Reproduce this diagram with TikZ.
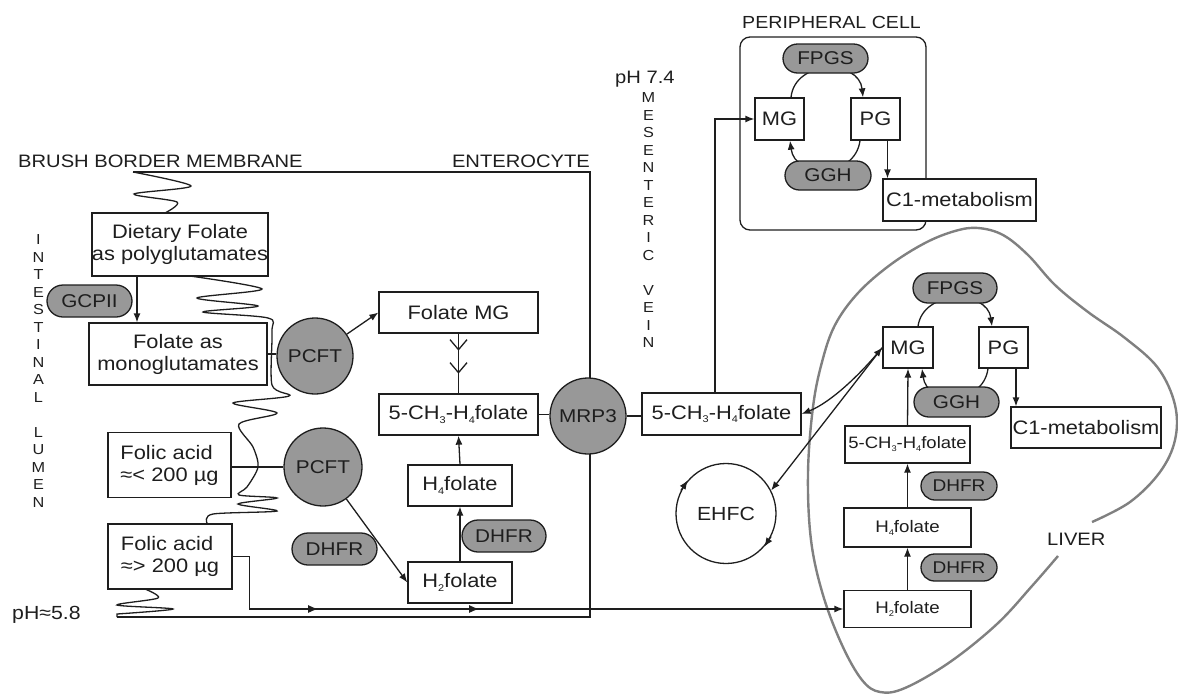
\documentclass[tikz,border=0pt]{standalone}
\usepackage{graphicx}
\usepackage{fontspec}
\setmainfont{Liberation Sans}[FakeStretch=1.12]
\usetikzlibrary{arrows.meta,shapes.misc,decorations.markings,backgrounds}
\definecolor{pillgray}{RGB}{152,152,152}
\definecolor{livergray}{RGB}{128,128,128}
\definecolor{ink}{RGB}{30,30,30}
\newcommand\ssub[1]{\raisebox{-0.35ex}{\scalebox{0.5}{#1}}}
\begin{document}
\begin{tikzpicture}[x=1pt,y=-1pt,
  box/.style={draw=ink, line width=1.3pt, fill=white, inner sep=0pt, align=center, text=ink, font=\fontsize{19.5}{22}\selectfont},
  pill/.style={rounded rectangle, draw=ink, line width=1.3pt, fill=pillgray, inner sep=0pt, text=ink, font=\fontsize{18.5}{20}\selectfont},
  circ/.style={circle, draw=ink, line width=1.3pt, fill=pillgray, inner sep=0pt, text=ink, font=\fontsize{18.5}{20}\selectfont},
  lbl/.style={inner sep=0pt, text=ink, font=\fontsize{18}{20}\selectfont},
  vlet/.style={inner sep=0pt, text=ink, font=\fontsize{14.5}{15}\selectfont},
  ln/.style={line width=1.3pt, draw=ink},
  tip/.style={-{Latex[length=9pt,width=7pt]}},
  arr/.style={ln, tip}]
\useasboundingbox (0,0) rectangle (1178,694);

% ---------- enterocyte frame and membrane ----------
\draw[ln] (133,172) -- (590,172) -- (590,617) -- (117,617);
\draw[ln] plot[smooth, tension=0.5] coordinates {(133,172) (191,186) (134,194) (177,202) (165,213)};
\draw[ln] plot[smooth, tension=0.5] coordinates {(190,276) (262,289) (197,298) (258,306) (203,312) (268,318) (272,332) (272,385) (289,396) (233,403) (277,413) (239,424) (253,447) (258,467) (247,487) (239,495) (277,498) (238,504) (277,511) (213,514) (207,523)};
\draw[ln] plot[smooth, tension=0.5] coordinates {(145,589) (158,598) (117,605) (173,609) (117,614)} -- (117,617);

% ---------- labels ----------
\node[lbl, anchor=base west] (bbm) at (18,167) {BRUSH BORDER MEMBRANE};
\node[lbl, anchor=base east] (ent) at (590,167) {ENTEROCYTE};
\node[lbl, anchor=base west, font=\fontsize{17.5}{20}\selectfont] (pcl) at (742,28) {PERIPHERAL CELL};
\node[lbl, anchor=base west] (ph74) at (615,83) {pH 7.4};
\node[lbl, anchor=base west, font=\fontsize{19}{20}\selectfont] (ph58) at (12,619) {pH≈5.8};
\node[lbl, anchor=base west] (liv) at (1047,545) {LIVER};
\foreach \c [count=\i] in {I,N,T,E,S,T,I,N,A,L} \node[vlet] (il\i) at (38.5,222.5+17.5*\i) {\c};
\foreach \c [count=\i] in {L,U,M,E,N} \node[vlet] (lu\i) at (38.5,415+17.5*\i) {\c};
\foreach \c [count=\i] in {M,E,S,E,N,T,E,R,I,C} \node[vlet] (me\i) at (648.5,80.5+17.5*\i) {\c};
\foreach \c [count=\i] in {V,E,I,N} \node[vlet] (ve\i) at (648.5,273+17.5*\i) {\c};

% ---------- liver outline ----------
\draw[line width=2.4pt, draw=livergray] plot[smooth, tension=0.6] coordinates {(1058,556) (1032,586) (997,624) (950,662) (905,688) (880,692) (862,680) (842,645) (823,595) (811,540) (808,473) (813,407) (822,362) (835,325) (858,293) (890,265) (925,243) (955,231) (978,228) (1003,235) (1028,255) (1055,285) (1088,312) (1125,338) (1158,368) (1175,405) (1175,440) (1160,472) (1130,502) (1092,522)};

% ---------- peripheral cell ----------
\node[draw=ink, line width=1.3pt, rounded corners=10pt, minimum width=186pt, minimum height=193pt] (pcell) at (833,133.5) {};

% ---------- enterocyte nodes ----------
\node[box, minimum width=176pt, minimum height=63pt] (diet) at (180,244.5) {Dietary Folate\\as polyglutamates};
\node[box, minimum width=178pt, minimum height=62pt] (mono) at (178,354) {Folate as\\monoglutamates};
\node[pill, minimum width=85pt, minimum height=32pt] (gcp) at (89.5,301) {GCPII};
\node[box, minimum width=123pt, minimum height=65pt, align=left] (fa1) at (169.5,465) {Folic acid\\≈< 200 µg};
\node[box, minimum width=124pt, minimum height=65pt, align=left] (fa2) at (170,556.5) {Folic acid\\≈> 200 µg};
\node[circ, minimum size=76pt] (pcft1) at (315,356) {PCFT};
\node[circ, minimum size=78pt] (pcft2) at (323,467) {PCFT};
\node[circ, minimum size=76pt] (mrp3) at (588,416) {MRP3};
\node[box, minimum width=159pt, minimum height=41pt] (fmg) at (458.5,312.5) {Folate MG};
\node[box, minimum width=159pt, minimum height=41pt] (ch3e) at (458.5,414.5) {5-CH\ssub{3}-H\ssub{4}folate};
\node[box, minimum width=104pt, minimum height=41pt] (h4e) at (460,485.5) {H\ssub{4}folate};
\node[box, minimum width=104pt, minimum height=41pt] (h2e) at (460,582.5) {H\ssub{2}folate};
\node[pill, minimum width=85pt, minimum height=32pt] (dh1) at (334.5,549) {DHFR};
\node[pill, minimum width=84pt, minimum height=32pt] (dh2) at (504,536) {DHFR};

% ---------- vein ----------
\node[box, minimum width=159pt, minimum height=42pt] (ch3v) at (721.5,414) {5-CH\ssub{3}-H\ssub{4}folate};
\node[circle, draw=ink, line width=1.3pt, minimum size=100pt, inner sep=0pt, text=ink, font=\fontsize{19}{20}\selectfont] (ehfc) at (726,513.5) {EHFC};

% ---------- peripheral contents ----------
\node[pill, minimum width=85pt, minimum height=29pt] (fp1) at (825.5,58.5) {FPGS};
\node[box, minimum width=49pt, minimum height=42pt] (mg1) at (779.5,119) {MG};
\node[box, minimum width=49pt, minimum height=42pt] (pg1) at (875.5,119) {PG};
\node[pill, minimum width=86pt, minimum height=29pt] (gg1) at (828,175.5) {GGH};
\node[box, minimum width=153pt, minimum height=42pt] (c1a) at (959.5,200) {C1-metabolism};

% ---------- liver contents ----------
\node[pill, minimum width=84pt, minimum height=30pt] (fp2) at (955,288) {FPGS};
\node[box, minimum width=50pt, minimum height=41pt] (mg2) at (908,347.5) {MG};
\node[box, minimum width=49pt, minimum height=41pt] (pg2) at (1003.5,347.5) {PG};
\node[pill, minimum width=85pt, minimum height=30pt] (gg2) at (956.5,402) {GGH};
\node[box, minimum width=150pt, minimum height=41pt] (c1b) at (1086,427.5) {C1-metabolism};
\node[box, minimum width=125pt, minimum height=37pt, font=\fontsize{16.5}{18}\selectfont] (ch3l) at (907.5,444.5) {5-CH\ssub{3}-H\ssub{4}folate};
\node[pill, minimum width=76pt, minimum height=28pt, font=\fontsize{17}{18}\selectfont] (dh3) at (959,486) {DHFR};
\node[box, minimum width=127pt, minimum height=39pt, font=\fontsize{16.7}{18}\selectfont] (h4l) at (907.5,527.5) {H\ssub{4}folate};
\node[pill, minimum width=76pt, minimum height=27pt, font=\fontsize{17}{18}\selectfont] (dh4) at (959,567.5) {DHFR};
\node[box, minimum width=127pt, minimum height=37pt, font=\fontsize{16.7}{18}\selectfont] (h2l) at (907.5,609) {H\ssub{2}folate};

% ---------- cycles (behind the pills) ----------
\begin{pgfonlayer}{background}
\draw[arr] ([xshift=11.5pt]mg1.north) .. controls +(4,-38) and +(-4,-38) .. ([xshift=-12.5pt]pg1.north);
\draw[arr] ([xshift=-15.5pt]pg1.south) .. controls +(-5,38) and +(5,38) .. ([xshift=10.5pt]mg1.south);
\draw[arr] ([xshift=10pt]mg2.north) .. controls +(5,-37) and +(-5,-37) .. ([xshift=-11.5pt]pg2.north);
\draw[arr] ([xshift=-15.5pt]pg2.south) .. controls +(-5,37) and +(5,37) .. ([xshift=14pt]mg2.south);
\end{pgfonlayer}

% ---------- connectors ----------
\coordinate (dx) at (137,0);
\draw[arr] (dx |- diet.south) -- (dx |- mono.north);
\draw[ln] (mono.east) -- (mono.east -| pcft1.west);
\draw[ln] (fa1.east |- pcft2.west) -- (pcft2.west);
\draw[arr] (pcft1) -- (fmg.west);
\draw[arr] (pcft2) -- (h2e.west);
\draw[ln, postaction={decorate}, decoration={markings,
   mark=at position 17pt with {\arrow{Straight Barb[length=10pt,width=17pt,line width=1.3pt]}},
   mark=at position 40pt with {\arrow{Straight Barb[length=10pt,width=17pt,line width=1.3pt]}}}]
   (fmg.south) -- (ch3e.north);
\draw[arr] (h4e.north) -- (ch3e.south);
\draw[arr] (h2e.north) -- (h4e.south);
\draw[ln] (ch3e.east) -- (ch3e.east -| mrp3.west);
\draw[ln] (mrp3.east) -- (mrp3.east -| ch3v.west);
\coordinate (b1) at ([xshift=17pt]fa2.east);
\coordinate (b2) at (b1 |- h2l.west);
\draw[arr, postaction={decorate}, decoration={markings,
   mark=at position 138pt with {\arrow{Latex[length=10pt,width=8pt]}},
   mark=at position 299pt with {\arrow{Latex[length=10pt,width=8pt]}}}]
   (fa2.east) -- (b1) -- (b2) -- (h2l.west);
\coordinate (vx) at (715,0);
\draw[arr] (vx |- ch3v.north) |- (mg1.west);
\draw[arr] ([xshift=12pt]pg1.south) -- ([xshift=12pt]pg1.south |- c1a.north);
\draw[arr] ([xshift=12.5pt]pg2.south) -- ([xshift=12.5pt]pg2.south |- c1b.north);
\draw[arr] (ch3l.north) -- (mg2.south);
\draw[arr] (h4l.north) -- (ch3l.south);
\draw[arr] (h2l.north) -- (h4l.south);
\draw[ln, {Latex[length=9pt,width=7pt]}-{Latex[length=9pt,width=7pt]}] (ch3v.east) .. controls +(30,-12) and +(-22,26) .. (mg2.west);
\draw[arr] (mg2.west) -- (ehfc.27);
\draw[arr] (ehfc.153) -- (ehfc.139);
\draw[arr] (ehfc.-27) -- (ehfc.-41);
\end{tikzpicture}
\end{document}
